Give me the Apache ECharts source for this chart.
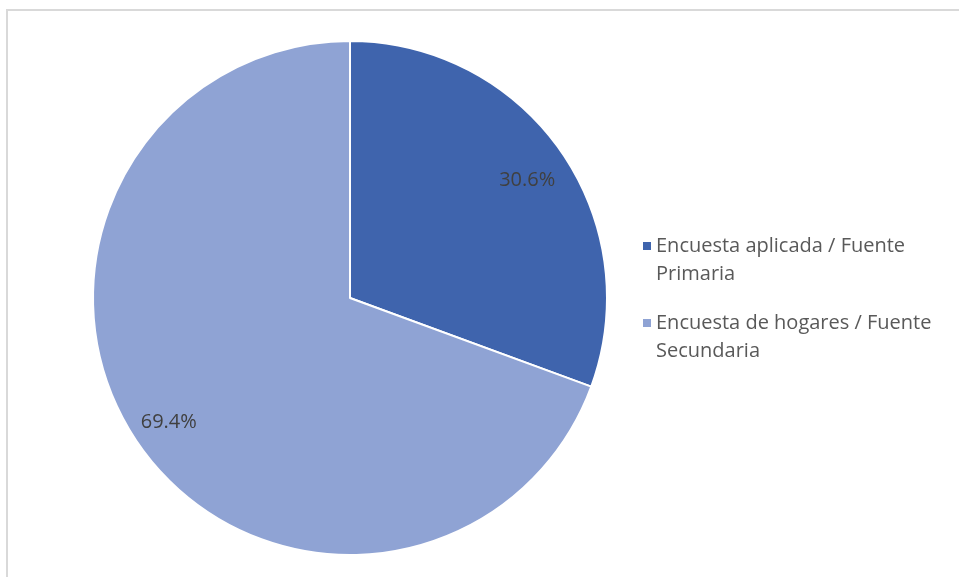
<!DOCTYPE html>
<html><head><meta charset="utf-8">
<script src="https://cdn.jsdelivr.net/npm/echarts@6/dist/echarts.min.js"></script>
<style>html,body{margin:0;padding:0;background:#fff}#c{width:959px;height:577px}</style>
</head><body><div id="c"></div>
<script>
const categories = ['Encuesta aplicada / Fuente Primaria', 'Encuesta de hogares / Fuente Secundaria'];
const legendLines = [['Encuesta aplicada / Fuente', 'Primaria'], ['Encuesta de hogares / Fuente', 'Secundaria']];
const values = [30.6, 69.4];
const colors = ['#3F64AD', '#8FA3D4'];

const chart = echarts.init(document.getElementById('c'), null, {renderer: 'canvas'});
const center = [350, 298];
const R = 257;
chart.setOption({
  animation: false,
  color: colors,
  graphic: [{
    type: 'rect', silent: true,
    shape: {x: 7, y: 10, width: 1000, height: 700},
    style: {fill: 'none', stroke: '#D9D9D9', lineWidth: 2}
  }],
  legend: {
    orient: 'vertical',
    left: 638,
    top: 199,
    itemWidth: 8,
    itemHeight: 8,
    itemGap: -7,
    icon: 'rect',
    itemStyle: {borderWidth: 0},
    data: categories,
    formatter: function (name) {
      const l = legendLines[categories.indexOf(name)];
      return '{t| }\n{t|' + l[0] + '}\n{t|' + l[1] + '}';
    },
    textStyle: {fontFamily: 'Open Sans', fontSize: 20, color: '#595959', lineHeight: 28,
      rich: {t: {fontFamily: 'Open Sans', fontSize: 20, color: '#595959', lineHeight: 28}}}
  },
  series: [{
    type: 'pie',
    center: center,
    radius: [0, R],
    startAngle: 90,
    clockwise: true,
    label: {show: false},
    labelLine: {show: false},
    itemStyle: {borderColor: '#ffffff', borderWidth: 2},
    emphasis: {disabled: true},
    data: categories.map((n, i) => ({name: n, value: values[i], itemStyle: {color: colors[i]}}))
  }, {
    type: 'pie',
    center: center,
    radius: [180, 256],
    startAngle: 90,
    clockwise: true,
    silent: true,
    legendHoverLink: false,
    label: {show: true, position: 'inside', formatter: function (p) { return values[p.dataIndex].toFixed(1) + '%'; },
            fontFamily: 'Open Sans', fontSize: 20, color: '#404040'},
    labelLine: {show: false},
    itemStyle: {color: 'rgba(0,0,0,0)'},
    emphasis: {disabled: true},
    data: categories.map((n, i) => ({name: n, value: values[i], label: i === 0 ? {offset: [-4, 9]} : {offset: [0, -2]}}))
  }]
});
</script></body></html>
